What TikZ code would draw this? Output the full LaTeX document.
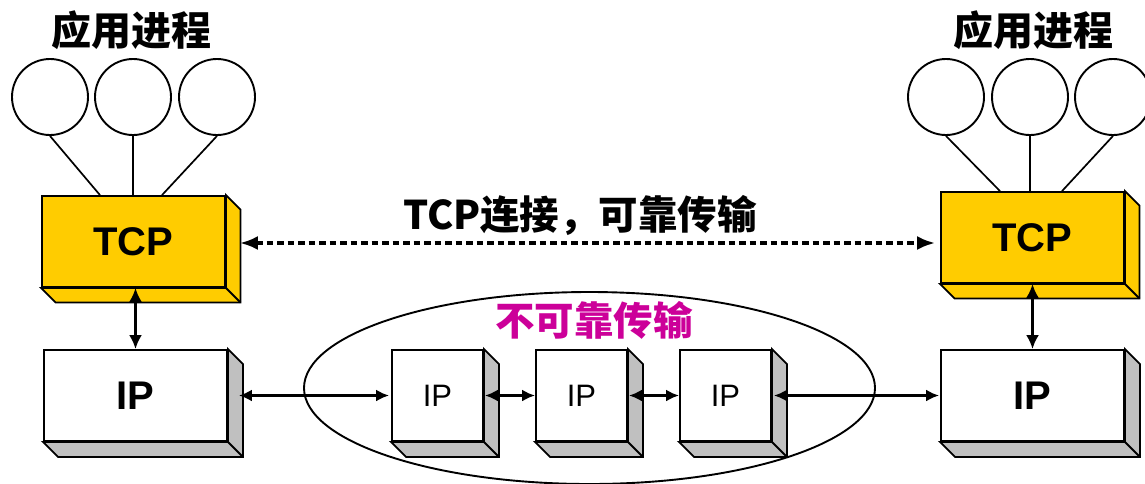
\documentclass[tikz,border=0pt]{standalone}
\usepackage{fontspec}
\setmainfont{Liberation Sans}
\newfontfamily\cjk[BoldFont={Noto Sans CJK SC Black}]{Noto Sans CJK SC}
\usetikzlibrary{arrows.meta,calc}
\definecolor{tcpyellow}{RGB}{255,204,0}
\definecolor{sidegray}{RGB}{192,192,192}
\definecolor{unrel}{RGB}{204,0,153}
\tikzset{
  face/.style={draw=black, line width=1.8pt, line join=miter},
  tcpbox/.style={face, fill=tcpyellow, minimum width=183pt, minimum height=91pt, inner sep=0pt,
    font=\bfseries\fontsize{40}{40}\selectfont},
  ipbig/.style={face, fill=white, minimum width=183pt, minimum height=91pt, inner sep=0pt,
    font=\bfseries\fontsize{40}{40}\selectfont},
  ipsmall/.style={face, fill=white, minimum width=91pt, minimum height=91pt, inner sep=0pt,
    font=\fontsize{31}{31}\selectfont},
  proc/.style={circle, draw=black, line width=1.9pt, fill=white, minimum size=76pt, inner sep=0pt},
  link/.style={draw=black, line width=1.7pt},
  arr/.style={line width=3.4pt, {Latex[length=13pt,width=12pt]}-{Latex[length=13pt,width=12pt]}},
  varr/.style={line width=3.4pt, {Latex[length=14pt,width=13pt]}-{Latex[length=14pt,width=13pt]}},
  dasharr/.style={line width=3.4pt, dash pattern=on 6.5pt off 4pt, {Latex[length=18pt,width=14pt]}-{Latex[length=18pt,width=14pt]}},
  titletext/.style={font=\cjk\bfseries\fontsize{40}{40}\selectfont},
  lbltext/.style={font=\cjk\bfseries\fontsize{39.5}{40}\selectfont},
}
% side and bottom faces of a 3-D box: #1 node name, #2 depth, #3 fill
\newcommand\boxfaces[3]{%
  \filldraw[face, fill=#3] (#1.north east) -- ++(#2,#2) -- ($(#1.south east)+(#2,#2)$) -- ($(#1.south west)+(#2,#2)$) -- (#1.south west) -- (#1.south east) -- cycle;
  \draw[face] (#1.south east) -- ++(#2,#2);
}
\begin{document}
\begin{tikzpicture}[x=1pt,y=-1pt]
\useasboundingbox (0,0) rectangle (1145,483);
% ellipse
\draw[line width=1.9pt] (589.5,388) ellipse [x radius=285.5, y radius=96];
% boxes
\node[tcpbox] (tcpL) at (133.5,241.5) {TCP};
\boxfaces{tcpL}{14.5}{tcpyellow}
\node[tcpbox] (tcpR) at (1032.5,237.5) {TCP};
\boxfaces{tcpR}{14.5}{tcpyellow}
\node[ipbig] (ipL) at (135.5,395.5) {IP};
\boxfaces{ipL}{15}{sidegray}
\node[ipbig] (ipR) at (1032.5,395.5) {IP};
\boxfaces{ipR}{15}{sidegray}
\node[ipsmall] (ip1) at (437.5,395.5) {IP};
\boxfaces{ip1}{15}{sidegray}
\node[ipsmall] (ip2) at (581.5,395.5) {IP};
\boxfaces{ip2}{15}{sidegray}
\node[ipsmall] (ip3) at (725.5,395.5) {IP};
\boxfaces{ip3}{15}{sidegray}
% processes
\node[proc] (pL1) at (50,97) {};
\node[proc] (pL2) at (133,97) {};
\node[proc] (pL3) at (217,97) {};
\node[proc] (pR1) at (946,97) {};
\node[proc] (pR2) at (1030,97) {};
\node[proc] (pR3) at (1113,97) {};
\draw[link] (pL1.south) -- ($(tcpL.north)+(-33.5,0)$);
\draw[link] (pL2.south) -- (pL2.south |- tcpL.north);
\draw[link] (pL3.south) -- ($(tcpL.north)+(28.5,0)$);
\draw[link] (pR1.south) -- ($(tcpR.north)+(-32.5,0)$);
\draw[link] (pR2.south) -- (pR2.south |- tcpR.north);
\draw[link] (pR3.south) -- ($(tcpR.north)+(29.5,0)$);
% titles
\node[titletext] (tL) at (131,30) {应用进程};
\node[titletext] (tR) at (1033,30) {应用进程};
\node[lbltext] (lbl) at (580,215) {TCP连接，可靠传输};
\node[lbltext, text=unrel, font=\cjk\bfseries\fontsize{39.5}{40}\selectfont] (unlbl) at (594,320) {不可靠传输};
% arrows
\draw[dasharr] ($(tcpL.east)+(14,1.5)$) -- ($(tcpL.east -| tcpR.west)+(-5,1.5)$);
\draw[varr] (ipL.north |- tcpL.south) -- (ipL.north);
\draw[varr] (tcpR.south) -- (ipR.north);
\draw[arr] ($(ipL.east)+(11,0)$) -- ($(ip1.west)+(-2,0)$);
\draw[arr] ($(ip1.east)+(1,0)$) -- (ip2.west);
\draw[arr] ($(ip2.east)+(1,0)$) -- (ip3.west);
\draw[arr] ($(ip3.east)+(2,0)$) -- ($(ipR.west)+(-1,0)$);
\end{tikzpicture}
\end{document}
